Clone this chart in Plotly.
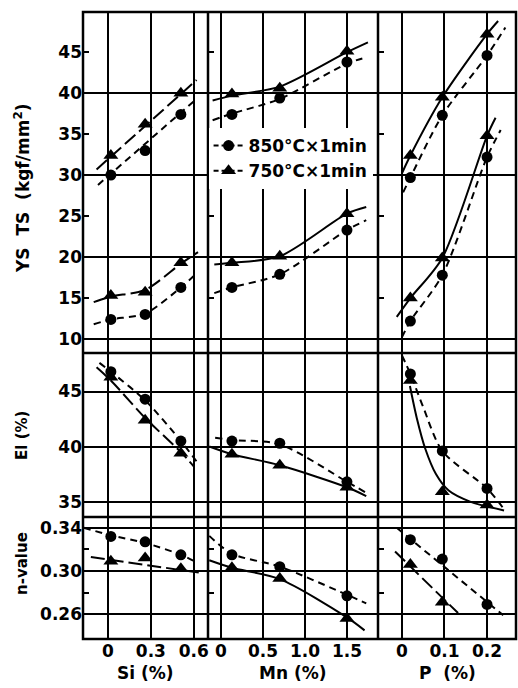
import plotly.graph_objects as go
from plotly.subplots import make_subplots

# ---------------- data ----------------
si_pts = [0.02, 0.26, 0.51]
mn_pts = [0.13, 0.70, 1.50]
p_pts = [0.02, 0.095, 0.20]

ts_850 = {"Si": [30.0, 33.0, 37.4], "Mn": [37.4, 39.4, 43.8], "P": [29.7, 37.3, 44.6]}
ts_750 = {"Si": [32.4, 36.2, 40.0], "Mn": [39.9, 40.6, 45.1], "P": [32.4, 39.5, 47.2]}
ys_850 = {"Si": [12.4, 13.0, 16.3], "Mn": [16.3, 17.9, 23.3], "P": [12.2, 17.8, 32.2]}
ys_750 = {"Si": [15.3, 15.7, 19.3], "Mn": [19.3, 20.1, 25.3], "P": [15.0, 19.9, 34.8]}
el_850 = {"Si": [46.8, 44.3, 40.5], "Mn": [40.5, 40.3, 36.8], "P": [46.6, 39.6, 36.2]}
el_750 = {"Si": [46.3, 42.4, 39.4], "Mn": [39.3, 38.3, 36.3], "P": [46.0, 35.9, 34.7]}
n_850 = {"Si": [0.332, 0.327, 0.315], "Mn": [0.315, 0.304, 0.277], "P": [0.329, 0.311, 0.269]}
n_750 = {"Si": [0.309, 0.312, 0.302], "Mn": [0.303, 0.293, 0.256], "P": [0.306, 0.271]}

# fitted curves as drawn in the figure (x list, y list)
curve_ts_850 = {"Si": ([-0.07, 0.62], [28.8, 39.3]),
                "Mn": ([-0.10, 0.13, 0.70, 1.50, 1.74], [36.7, 37.5, 39.3, 43.6, 44.4]),
                "P": ([0.003, 0.02, 0.095, 0.20, 0.243], [27.9, 29.7, 37.3, 44.6, 48.0])}
curve_ts_750 = {"Si": ([-0.08, 0.62], [30.7, 41.6]),
                "Mn": ([-0.10, 0.13, 0.70, 1.50, 1.75], [39.1, 39.7, 40.8, 45.0, 46.2]),
                "P": ([0.0, 0.02, 0.095, 0.20, 0.226], [30.2, 32.4, 39.5, 47.2, 48.8])}
curve_ys_850 = {"Si": ([-0.10, 0.02, 0.26, 0.51, 0.62], [11.8, 12.4, 13.1, 16.3, 18.0]),
                "Mn": ([-0.08, 0.13, 0.70, 1.50, 1.73], [15.6, 16.3, 17.9, 23.3, 24.5]),
                "P": ([0.0, 0.02, 0.095, 0.20, 0.232], [10.2, 12.2, 17.8, 32.2, 35.5])}
curve_ys_750 = {"Si": ([-0.10, 0.02, 0.26, 0.51, 0.63], [14.5, 15.2, 16.0, 19.2, 20.6]),
                "Mn": ([-0.08, 0.13, 0.70, 1.50, 1.73], [19.1, 19.3, 20.1, 25.3, 26.1]),
                "P": ([-0.012, 0.02, 0.095, 0.20, 0.22], [12.7, 15.0, 19.9, 34.8, 37.0])}
curve_el_850 = {"Si": ([-0.06, 0.02, 0.26, 0.51, 0.64], [47.6, 46.8, 44.2, 40.5, 38.3]),
                "Mn": ([-0.07, 0.13, 0.70, 1.50, 1.73], [40.8, 40.6, 40.2, 36.8, 35.8]),
                "P": ([0.0, 0.02, 0.05, 0.095, 0.20, 0.238], [48.3, 46.6, 43.6, 39.6, 36.2, 34.4])}
curve_el_750 = {"Si": ([-0.08, 0.02, 0.26, 0.51, 0.60], [47.2, 46.0, 42.6, 39.5, 38.2]),
                "Mn": ([-0.14, 0.13, 0.70, 1.50, 1.73], [40.0, 39.3, 38.3, 36.3, 35.5]),
                "P": ([0.019, 0.035, 0.055, 0.08, 0.11, 0.16, 0.24],
                      [45.5, 42.6, 39.8, 37.5, 36.0, 35.0, 34.2])}
curve_n_850 = {"Si": ([-0.17, 0.02, 0.26, 0.51, 0.62], [0.340, 0.333, 0.326, 0.315, 0.308]),
               "Mn": ([-0.14, 0.13, 0.70, 1.50, 1.73], [0.3325, 0.316, 0.304, 0.278, 0.270]),
               "P": ([-0.012, 0.238], [0.340, 0.259])}
curve_n_750 = {"Si": ([-0.12, 0.66], [0.313, 0.298]),
               "Mn": ([-0.14, 0.13, 0.70, 1.50, 1.71], [0.310, 0.303, 0.2925, 0.257, 0.245]),
               "P": ([-0.016, 0.132], [0.318, 0.261])}

x_ticks = {"Si": [0, 0.3, 0.6], "Mn": [0, 0.5, 1.0, 1.5], "P": [0, 0.1, 0.2]}
x_ticktext = {"Si": ["0", "0.3", "0.6"], "Mn": ["0", "0.5", "1.0", "1.5"], "P": ["0", "0.1", "0.2"]}
x_titles = {"Si": "Si (%)", "Mn": "Mn (%)", "P": "P  (%)"}
legend_names = ["850°C×1min", "750°C×1min"]

# ---------------- styling ----------------
FONT = "DejaVu Sans"
cols = ["Si", "Mn", "P"]
x_pts = {"Si": si_pts, "Mn": mn_pts, "P": p_pts}
x_range = {"Si": [-0.175, 0.70], "Mn": [-0.155, 1.87], "P": [-0.056, 0.268]}
DASH_C = "7px,5px"
DASH_T = {"Si": "14px,5px", "Mn": "solid", "P": "solid"}
DASH_T_N = {"Si": "14px,5px", "Mn": "solid", "P": "14px,5px"}

COLW = [125, 170, 138]
ROWH = [341, 164, 122]
fig = make_subplots(rows=3, cols=3, horizontal_spacing=0, vertical_spacing=0,
                    column_widths=COLW, row_heights=ROWH)


def add_series(row, col, key, curve, pts_y, symbol, dash, size):
    cx, cy = curve[key]
    fig.add_trace(go.Scatter(x=cx, y=cy, mode="lines", line=dict(color="black", width=2, dash=dash,
                                                                    shape="spline", smoothing=0.8),
                             showlegend=False, hoverinfo="skip"), row=row, col=col)
    ys = pts_y[key]
    fig.add_trace(go.Scatter(x=x_pts[key][:len(ys)], y=ys, mode="markers",
                             marker=dict(symbol=symbol, size=size, color="black"),
                             showlegend=False), row=row, col=col)


for ci, key in enumerate(cols, start=1):
    add_series(1, ci, key, curve_ts_850, ts_850, "circle", DASH_C, 11)
    add_series(1, ci, key, curve_ts_750, ts_750, "triangle-up", DASH_T[key], 13)
    add_series(1, ci, key, curve_ys_850, ys_850, "circle", DASH_C, 11)
    add_series(1, ci, key, curve_ys_750, ys_750, "triangle-up", DASH_T[key], 13)
    add_series(2, ci, key, curve_el_850, el_850, "circle", DASH_C, 11)
    add_series(2, ci, key, curve_el_750, el_750, "triangle-up", DASH_T[key], 13)
    add_series(3, ci, key, curve_n_850, n_850, "circle", DASH_C, 11)
    add_series(3, ci, key, curve_n_750, n_750, "triangle-up", DASH_T_N[key], 13)

# legend entries
fig.add_trace(go.Scatter(x=[None], y=[None], mode="lines+markers", name=legend_names[0],
                         line=dict(color="black", width=2, dash="5px,3px"),
                         marker=dict(symbol="circle", size=11, color="black")), row=1, col=2)
fig.add_trace(go.Scatter(x=[None], y=[None], mode="lines+markers", name=legend_names[1],
                         line=dict(color="black", width=2, dash="5px,3px"),
                         marker=dict(symbol="triangle-up", size=13, color="black")), row=1, col=2)

tick_font = dict(family=FONT, size=17, color="black", weight="bold")
axis_common = dict(showline=False, zeroline=False, tickfont=tick_font)
grid = dict(showgrid=True, gridcolor="black", gridwidth=1.5)
yticks = dict(ticks="inside", ticklen=6, tickwidth=2, tickcolor="black")

for ci, key in enumerate(cols, start=1):
    for ri in range(1, 4):
        fig.update_xaxes(row=ri, col=ci, range=x_range[key], tickvals=x_ticks[key],
                         ticktext=x_ticktext[key], showticklabels=(ri == 3), ticks="",
                         **grid, **axis_common)
    fig.update_yaxes(row=1, col=ci, range=[8.3, 49.9], tickvals=[10, 15, 20, 25, 30, 35, 40, 45],
                     showgrid=False,
                     minor=dict(tickvals=[10, 20, 30, 40], showgrid=True, gridcolor="black",
                                gridwidth=1.5, ticks=""),
                     showticklabels=(ci == 1), **yticks, **axis_common)
    fig.update_yaxes(row=2, col=ci, range=[33.6, 48.5], tickvals=[35, 40, 45],
                     showticklabels=(ci == 1), **yticks, **grid, **axis_common)
    fig.update_yaxes(row=3, col=ci, range=[0.237, 0.350], tickvals=[0.26, 0.30, 0.34],
                     ticktext=["0.26", "0.30", "0.34"],
                     minor=dict(tickvals=[0.28, 0.32], ticks="inside", ticklen=6,
                                tickwidth=2, tickcolor="black", showgrid=False),
                     showticklabels=(ci == 1), **yticks, **grid, **axis_common)

# frame and panel dividers (paper coordinates)
W, H = sum(COLW), sum(ROWH)
shapes = [dict(type="rect", xref="paper", yref="paper", x0=0, x1=1, y0=0, y1=1,
               line=dict(color="black", width=2.5))]
acc = 0
for w in COLW[:-1]:
    acc += w
    shapes.append(dict(type="line", xref="paper", yref="paper", x0=acc / W, x1=acc / W, y0=0, y1=1,
                       line=dict(color="black", width=2.5)))
acc = 0
for h in ROWH[:-1]:
    acc += h
    shapes.append(dict(type="line", xref="paper", yref="paper", x0=0, x1=1,
                       y0=1 - acc / H, y1=1 - acc / H, line=dict(color="black", width=2.5)))

annots = []
title_font = dict(family=FONT, size=17, color="black", weight="bold")
small_title_font = dict(family=FONT, size=15, color="black", weight="bold")
side = dict(xref="paper", yref="paper", textangle=-90, showarrow=False,
            xanchor="center", yanchor="middle")
annots.append(dict(text="YS  TS  (kgf/mm<sup>2</sup>)", x=-0.141, y=(H - 176) / H,
                   font=title_font, **side))
annots.append(dict(text="El (%)", x=-0.141, y=(H - 423) / H, font=small_title_font, **side))
annots.append(dict(text="n-value", x=-0.141, y=(H - 551) / H, font=small_title_font, **side))
col_centers = [62.5 / W, 210 / W, 364 / W]
for key, cx in zip(cols, col_centers):
    annots.append(dict(text=x_titles[key], x=cx, y=-34 / H, xref="paper", yref="paper",
                       showarrow=False, font=title_font, xanchor="center", yanchor="middle"))

fig.update_layout(
    width=518, height=688, margin=dict(l=83, r=2, t=12, b=49),
    paper_bgcolor="white", plot_bgcolor="white",
    annotations=annots, shapes=shapes,
    showlegend=True,
    legend=dict(x=0.29, y=0.815, xanchor="left", yanchor="top", bgcolor="white",
                font=dict(family=FONT, size=17, color="black", weight="bold"), borderwidth=0,
                tracegroupgap=0, itemwidth=30),
    font=dict(family=FONT, color="black"),
)

fig.write_html("out.html")
